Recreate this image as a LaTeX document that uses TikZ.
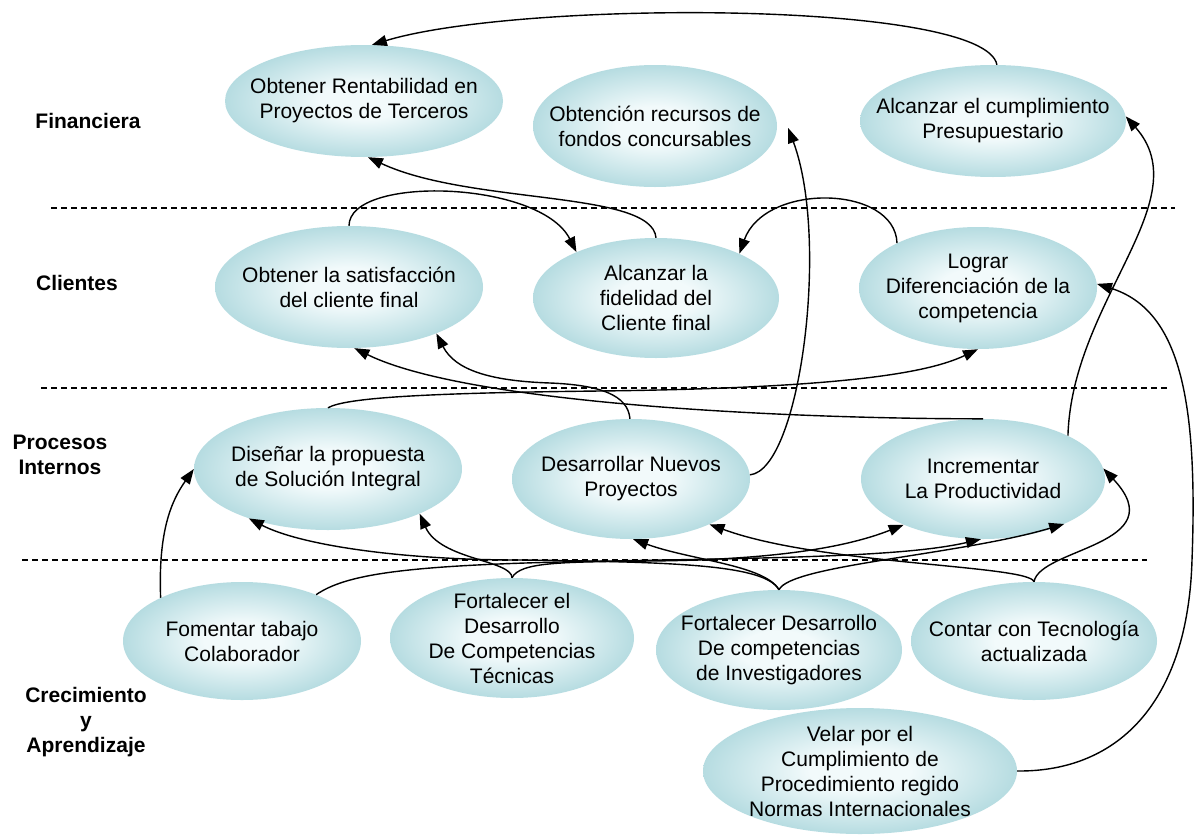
\documentclass[tikz,border=0pt]{standalone}
\usepackage{fontspec}
\setmainfont{Liberation Sans}
\usetikzlibrary{shapes.geometric,arrows.meta}

\definecolor{ovalIn}{RGB}{242,250,251}
\definecolor{ovalOut}{RGB}{182,220,225}
\pgfdeclareradialshading{ovalshade}{\pgfpoint{0bp}{0bp}}{color(0bp)=(ovalIn); color(8bp)=(ovalIn); color(25bp)=(ovalOut); color(50bp)=(ovalOut)}

\tikzset{
  oval/.style={ellipse, shading=ovalshade, draw=none, inner sep=0pt},
  ovaltext/.style={align=center, inner sep=0pt, font=\fontsize{21}{25}\selectfont},
  lane/.style={align=center, inner sep=0pt, font=\bfseries\fontsize{21}{25}\selectfont},
  sep/.style={dash pattern=on 6pt off 4pt, line width=1.2pt},
  link/.style={line width=1.4pt, -{Triangle[length=15pt,width=11pt]}}
}

% goal: name, x, y, x-radius, y-radius, text
\newcommand{\goal}[6]{%
  \node[oval, minimum width={2*#4}, minimum height={2*#5}] (#1) at (#2,#3) {};
  \node[ovaltext] (#1-t) at (#1.center) {#6};}

\begin{document}
\begin{tikzpicture}[x=1pt,y=-1pt]
\fill[white] (0,0) rectangle (1194,835);
\useasboundingbox (0,0) rectangle (1194,835);

% perspective separators
\draw[sep] (51,208) coordinate (s1a) -- (1175,208) coordinate (s1b);
\draw[sep] (41,388) coordinate (s2a) -- (1167,388) coordinate (s2b);
\draw[sep] (22,560) coordinate (s3a) -- (1147,560) coordinate (s3b);

% perspective labels
\node[lane] (lfin) at (88,121) {Financiera};
\node[lane] (lcli) at (77,283) {Clientes};
\node[lane] (lpro) at (60,455) {Procesos\\Internos};
\node[lane] (lcre) at (86,722) {Crecimiento\\y\\Aprendizaje};

% objectives
\goal{rent}{364}{101}{139}{56}{Obtener Rentabilidad en\\Proyectos de Terceros}
\goal{obt}{655}{126}{122}{61}{Obtención recursos de\\fondos concursables}
\goal{alc}{993}{121}{133}{56}{Alcanzar el cumplimiento\\Presupuestario}
\goal{sat}{349}{287}{134}{61}{Obtener la satisfacción\\del cliente final}
\goal{fid}{656}{298}{123}{60}{Alcanzar la\\fidelidad del\\Cliente final}
\goal{log}{978}{288}{119}{61}{Lograr\\Diferenciación de la\\competencia}
\goal{dis}{328}{469}{134}{61}{Diseñar la propuesta\\de Solución Integral}
\goal{des}{631}{479}{119}{60}{Desarrollar Nuevos\\Proyectos}
\goal{inc}{983}{479}{122}{60}{Incrementar\\La Productividad}
\goal{fom}{242}{641}{119}{59}{Fomentar tabajo\\Colaborador}
\goal{tec}{512}{638}{122}{60}{Fortalecer el\\Desarrollo\\De Competencias\\Técnicas}
\goal{inv}{779}{650}{123}{60}{Fortalecer Desarrollo\\De competencias\\de Investigadores}
\goal{con}{1034}{641}{123}{59}{Contar con Tecnología\\actualizada}
\goal{vel}{860}{771}{157}{63}{Velar por el\\Cumplimiento de\\Procedimiento regido\\Normas Internacionales}

% cause-effect links
\draw[link] (alc.86) .. controls (985,0) and (520,0) .. (rent.82);
\draw[link] (sat.90) .. controls (349,175) and (540,180) .. (fid.150);
\draw[link] (fid.90) .. controls (652,190) and (470,205) .. (rent.-86);
\draw[link] (log.151) .. controls (895,185) and (765,182) .. (fid.28);
\draw[link] (des.2) .. controls (800,470) and (830,240) .. ([shift={(11,2)}]obt.east);
\draw[link] (inc.27) .. controls (1072,300) and (1200,200) .. (alc.2);
\coordinate (velturn) at (1192,560);
\draw[link] (vel.0) .. controls (1120,772) and (1188,700) .. (velturn)
  .. controls (1198,400) and (1180,310) .. (log.2);
\draw[link] (inc.90) .. controls (800,419) and (470,405) .. (sat.-85);
\coordinate (desbend) at (550,383);
\draw[link] (des.91) .. controls (628,395) and (600,385) .. (desbend)
  .. controls (490,381) and (455,370) .. (sat.-28);
\coordinate (disbend) at (600,391);
\draw[link] (dis.90) .. controls (345,398) and (420,393) .. (disbend)
  .. controls (850,388) and (930,372) .. (log.-90);
\draw[link] (fom.152) .. controls (158,530) and (172,500) .. (dis.180);
\coordinate (invbend) at (520,560);
\draw[link] (inv.90) .. controls (765,565) and (680,562) .. (invbend)
  .. controls (400,560) and (300,545) .. (dis.-148);
\draw[link] (tec.90) .. controls (512,560) and (440,560) .. (dis.-26);
\draw[link] (inv.90) .. controls (765,565) and (690,560) .. (des.-88);
\draw[link] (con.90) .. controls (1030,565) and (820,565) .. (des.-30);
\draw[link] (con.90) .. controls (1040,548) and (1175,545) .. (inc.5);
\coordinate (tecbend) at (650,561);
\draw[link] (tec.90) .. controls (520,562) and (560,562) .. (tecbend)
  .. controls (760,560) and (840,550) .. (inc.-150);
\coordinate (fombend) at (560,562);
\draw[link] (fom.32) .. controls (345,575) and (400,566) .. (fombend)
  .. controls (750,558) and (900,558) .. (inc.-92);
\draw[link] (inv.90) .. controls (790,565) and (960,555) .. (inc.-29);
\end{tikzpicture}
\end{document}
